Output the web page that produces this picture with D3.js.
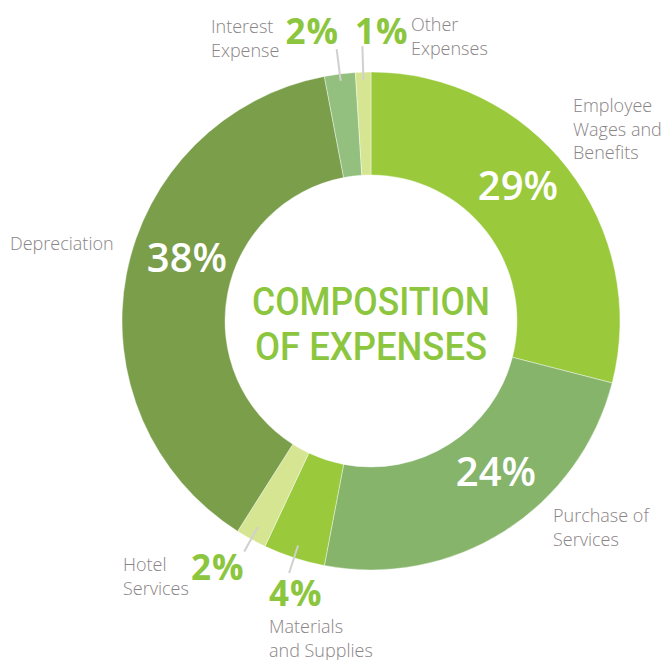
<!DOCTYPE html>
<html>
<head>
<meta charset="utf-8">
<script src="https://cdn.jsdelivr.net/npm/d3@7/dist/d3.min.js"></script>
<style>
  html, body { margin: 0; padding: 0; background: #fff; }
  svg { display: block; }
</style>
</head>
<body>
<svg id="chart" width="663" height="660"></svg>
<script>
// ---- data ----
const categories = ["Employee Wages and Benefits", "Purchase of Services", "Materials and Supplies",
                    "Hotel Services", "Depreciation", "Interest Expense", "Other Expenses"];
const values = [29, 24, 4, 2, 38, 2, 1];
const colors = ["#9aca3c", "#86b46b", "#9aca3c", "#d6e591", "#7a9e4a", "#93c07e", "#d6e591"];
const titleLines = ["COMPOSITION", "OF EXPENSES"];

// ---- layout ----
const W = 663, H = 660;
const cx = 371, cy = 321, R = 249, r0 = 146;

// label layout (text annotations)
const nameLabels = [
  { i: 0, x: 573, y: 112, lines: ["Employee", "Wages and", "Benefits"] },
  { i: 1, x: 553, y: 522, lines: ["Purchase of", "Services"] },
  { i: 2, x: 269, y: 633, lines: ["Materials", "and Supplies"] },
  { i: 3, x: 123, y: 571, lines: ["Hotel", "Services"] },
  { i: 4, x: 10,  y: 250, lines: ["Depreciation"] },
  { i: 5, x: 211, y: 33,  lines: ["Interest", "Expense"] },
  { i: 6, x: 411, y: 31,  lines: ["Other", "Expenses"] }
];
const innerPct = [ // white percentages inside big slices
  { i: 0, x: 518, y: 200 },
  { i: 1, x: 496, y: 486 },
  { i: 4, x: 187, y: 272 }
];
const outerPct = [ // green percentages for small slices
  { i: 2, x: 269, y: 606, anchor: "start" },
  { i: 3, x: 191, y: 580, anchor: "start" },
  { i: 5, x: 339, y: 44,  anchor: "end" },
  { i: 6, x: 355, y: 44,  anchor: "start" }
];
const leaders = [ // radial extent of leader lines
  { i: 2, r1: R - 13, r2: R + 16 },
  { i: 3, r1: R - 14, r2: R + 14 },
  { i: 5, r1: R - 7,  r2: R + 25 },
  { i: 6, r1: R - 8,  r2: R + 26 }
];

const svg = d3.select("#chart");
const g = svg.append("g").attr("transform", `translate(${cx},${cy})`);

const pie = d3.pie().sort(null).value(d => d)(values);
const arc = d3.arc().innerRadius(r0).outerRadius(R);

g.selectAll("path.slice")
  .data(pie)
  .join("path")
  .attr("class", "slice")
  .attr("d", arc)
  .attr("fill", (d, i) => colors[i])
  .attr("stroke", "#fff")
  .attr("stroke-width", 0.4);

// leader lines
const midA = d => (d.startAngle + d.endAngle) / 2;
g.selectAll("line.leader")
  .data(leaders)
  .join("line")
  .attr("x1", l => l.r1 * Math.sin(midA(pie[l.i])))
  .attr("y1", l => -l.r1 * Math.cos(midA(pie[l.i])))
  .attr("x2", l => l.r2 * Math.sin(midA(pie[l.i])))
  .attr("y2", l => -l.r2 * Math.cos(midA(pie[l.i])))
  .attr("stroke", "#d2cfcf")
  .attr("stroke-width", 2);

// category labels
const lab = svg.append("g")
  .attr("font-family", "'Open Sans', sans-serif")
  .attr("font-weight", 300)
  .attr("font-size", 18)
  .attr("fill", "#8a8486");
nameLabels.forEach(l => {
  const t = lab.append("text").attr("x", l.x).attr("y", l.y);
  l.lines.forEach((s, k) => {
    t.append("tspan").attr("x", l.x).attr("y", l.y + k * 23.5).text(s);
  });
});

// inner white percentages
svg.append("g")
  .selectAll("text")
  .data(innerPct)
  .join("text")
  .attr("x", p => p.x)
  .attr("y", p => p.y)
  .attr("text-anchor", "middle")
  .attr("font-family", "'Open Sans', sans-serif")
  .attr("font-weight", 600)
  .attr("font-size", 40)
  .attr("fill", "#fff")
  .text(p => values[p.i] + "%");

// outer green percentages
svg.append("g")
  .selectAll("text")
  .data(outerPct)
  .join("text")
  .attr("x", p => p.x)
  .attr("y", p => p.y)
  .attr("text-anchor", p => p.anchor)
  .attr("font-family", "'Open Sans', sans-serif")
  .attr("font-weight", 700)
  .attr("font-size", 35)
  .attr("letter-spacing", 1)
  .attr("fill", "#8cc63f")
  .text(p => values[p.i] + "%");

// center title
const tt = svg.append("g")
  .attr("font-family", "Roboto, sans-serif")
  .attr("font-weight", 500)
  .attr("font-size", 38)
  .attr("fill", "#8cc63f")
  .attr("text-anchor", "middle");
tt.append("text").attr("x", cx).attr("y", 315)
  .attr("textLength", 238).attr("lengthAdjust", "spacingAndGlyphs").text(titleLines[0]);
tt.append("text").attr("x", cx).attr("y", 360)
  .attr("textLength", 232).attr("lengthAdjust", "spacingAndGlyphs").text(titleLines[1]);
</script>
</body>
</html>
